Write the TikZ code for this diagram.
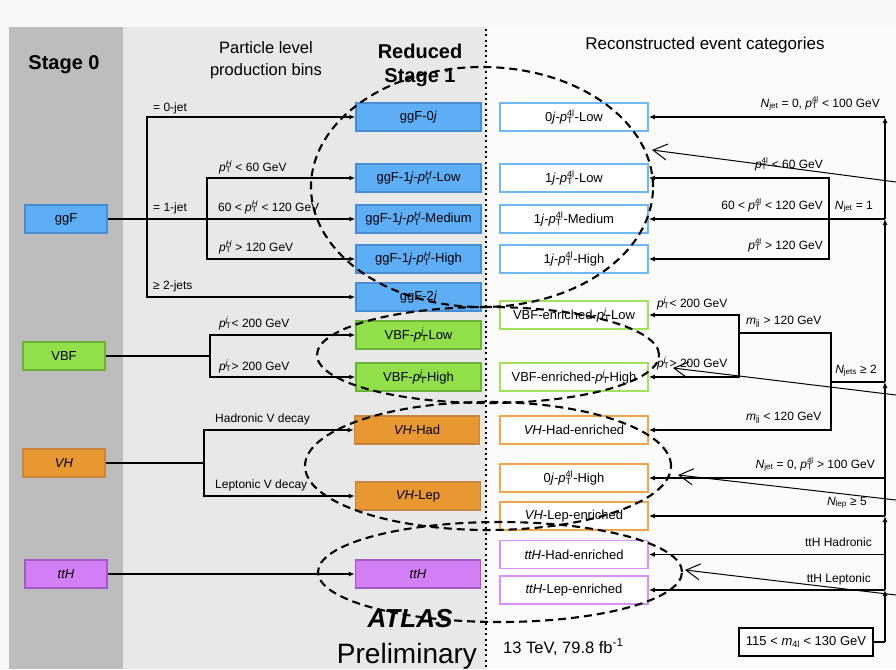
\documentclass[tikz,border=0pt]{standalone}
\usepackage{fontspec}
\setmainfont{Liberation Sans}
\usetikzlibrary{arrows.meta}
\definecolor{st_blue}{RGB}{94, 174, 246}
\definecolor{st_blue_d}{RGB}{72, 140, 212}
\definecolor{st_blue_l}{RGB}{110, 184, 246}
\definecolor{st_green}{RGB}{145, 224, 74}
\definecolor{st_green_d}{RGB}{108, 178, 58}
\definecolor{st_green_l}{RGB}{160, 228, 92}
\definecolor{st_orange}{RGB}{232, 152, 48}
\definecolor{st_orange_d}{RGB}{198, 132, 62}
\definecolor{st_orange_l}{RGB}{240, 166, 72}
\definecolor{st_violet}{RGB}{212, 126, 246}
\definecolor{st_violet_d}{RGB}{160, 92, 196}
\definecolor{st_violet_l}{RGB}{218, 142, 248}
\definecolor{bg_page}{RGB}{248, 248, 248}
\definecolor{bg_right}{RGB}{251, 251, 251}
\definecolor{bg_s0}{RGB}{189, 189, 189}
\definecolor{bg_mid}{RGB}{232, 232, 232}
\tikzstyle{bx}=[rectangle,line width=1.5pt,minimum height=28pt,inner sep=0pt,
  font=\fontsize{13}{15}\selectfont]
\tikzstyle{fb}=[bx,fill=st_blue,draw=st_blue_d,minimum width=125pt]
\tikzstyle{fg}=[bx,fill=st_green,draw=st_green_d,minimum width=125pt]
\tikzstyle{fo}=[bx,fill=st_orange,draw=st_orange_d,minimum width=125pt]
\tikzstyle{fv}=[bx,fill=st_violet,draw=st_violet_d,minimum width=125pt]
\tikzstyle{ob}=[bx,fill=white,draw=st_blue_l,minimum width=148pt]
\tikzstyle{og}=[bx,fill=white,draw=st_green_l,minimum width=148pt]
\tikzstyle{oo}=[bx,fill=white,draw=st_orange_l,minimum width=148pt]
\tikzstyle{ov}=[bx,fill=white,draw=st_violet_l,minimum width=148pt]
\tikzstyle{mb}=[bx,fill=white,draw=black,minimum width=134pt]
\tikzstyle{ln}=[line width=1.3pt]
\tikzstyle{ar}=[line width=1.3pt,-{Latex[length=6pt,width=5pt]}]
\tikzstyle{far}=[line width=1pt,-{Straight Barb[length=14pt,width=16pt]}]
\tikzstyle{ring}=[line width=2.1pt,dash pattern=on 8pt off 5pt]
\tikzstyle{dots}=[line width=2pt,dash pattern=on 2pt off 3.3pt]
\tikzstyle{lb}=[inner sep=0pt,font=\fontsize{12}{14}\selectfont]
\newcommand{\ptH}{\textit{p}\rlap{\textsubscript{T}}\textsuperscript{\textit{H}}}
\newcommand{\ptl}{\textit{p}\rlap{\textsubscript{T}}\textsuperscript{4l}}
\newcommand{\ptj}{\textit{p}\rlap{\textsubscript{T}}\textsuperscript{\textit{j}}}
\begin{document}
\begin{tikzpicture}[x=1pt,y=-1pt]
    \useasboundingbox (0,0) rectangle (896,669);
    \fill [bg_page] (0,0) rectangle (896,669);
    \fill [bg_s0] (9,27) rectangle (123,669);
    \fill [bg_mid] (123,27) rectangle (486,669);
    \fill [bg_right] (486,27) rectangle (896,669);
    \draw [style=dots] (486,29) -- (486,669);

    \node [inner sep=0pt,font=\bfseries\fontsize{20}{24}\selectfont,anchor=base] (80) at (64,70) {Stage 0};
    \node [inner sep=0pt,align=center,font=\fontsize{16.5}{22}\selectfont] (81) at (266,60) {Particle level\\production bins};
    \node [inner sep=0pt,align=center,font=\bfseries\fontsize{20}{24}\selectfont] (82) at (420,65) {Reduced\\Stage 1};
    \node [inner sep=0pt,font=\fontsize{17}{20}\selectfont,anchor=base] (83) at (705,50) {Reconstructed event categories};

    \node [style=fb,minimum width=82pt] (1) at (66,219) {ggF};
    \node [style=fg,minimum width=82pt] (2) at (64,356) {VBF};
    \node [style=fo,minimum width=82pt] (3) at (64,463) {\textit{VH}};
    \node [style=fv,minimum width=82pt] (4) at (66,574) {\textit{ttH}};

    \node [style=fb] (5) at (418.5,117) {ggF-0\textit{j}};
    \node [style=fb] (6) at (418.5,178) {ggF-1\textit{j}-\ptH-Low};
    \node [style=fb] (7) at (418.5,219) {ggF-1\textit{j}-\ptH-Medium};
    \node [style=fb] (8) at (418.5,259) {ggF-1\textit{j}-\ptH-High};
    \node [style=fb] (9) at (418.5,297) {ggF-2\textit{j}};
    \node [style=fg] (10) at (418.5,335) {VBF-\ptj-Low};
    \node [style=fg] (11) at (418.5,377) {VBF-\ptj-High};
    \node [style=fo] (12) at (417,430) {\textit{VH}-Had};
    \node [style=fo] (13) at (418,496) {\textit{VH}-Lep};
    \node [style=fv] (14) at (418,574) {\textit{ttH}};

    \node [style=ob] (15) at (574,117) {0\textit{j}-\ptl-Low};
    \node [style=ob] (16) at (574,178) {1\textit{j}-\ptl-Low};
    \node [style=ob] (17) at (574,219) {1\textit{j}-\ptl-Medium};
    \node [style=ob] (18) at (574,259) {1\textit{j}-\ptl-High};
    \node [style=og] (19) at (574,315) {VBF-enriched-\ptj-Low};
    \node [style=og] (20) at (574,377) {VBF-enriched-\ptj-High};
    \node [style=oo] (21) at (574,430) {\textit{VH}-Had-enriched};
    \node [style=oo] (22) at (574,478) {0\textit{j}-\ptl-High};
    \node [style=oo] (23) at (574,516) {\textit{VH}-Lep-enriched};
    \node [style=ov] (24) at (574,554.5) {\textit{ttH}-Had-enriched};
    \node [style=ov] (25) at (574,590) {\textit{ttH}-Lep-enriched};
    \node [style=mb] (26) at (806,642) {115 < \textit{m}\textsubscript{4l} < 130 GeV};

    \coordinate (30) at (147,219);
    \coordinate (31) at (207,219);
    \coordinate (32) at (210,356);
    \coordinate (33) at (204,463);
    \draw [style=ar] (1) to (7);
    \draw [style=ar] (30) |- (5);
    \draw [style=ar] (30) |- (9);
    \draw [style=ar] (31) |- (6);
    \draw [style=ar] (31) |- (8);
    \draw [style=ln] (2) to (32);
    \draw [style=ar] (32) |- (10);
    \draw [style=ar] (32) |- (11);
    \draw [style=ln] (3) to (33);
    \draw [style=ar] (33) |- (12);
    \draw [style=ar] (33) |- (13);
    \draw [style=ar] (4) to (14);

    \coordinate (40) at (885,642);
    \coordinate (41) at (885,590);
    \coordinate (42) at (885,554.5);
    \coordinate (43) at (885,516);
    \coordinate (44) at (885,478);
    \coordinate (45) at (885,382);
    \coordinate (46) at (885,219);
    \coordinate (47) at (885,117);
    \coordinate (48) at (831,382);
    \coordinate (49) at (739,333);
    \coordinate (50) at (829,219);
    \draw [style=ln] (26) to (40);
    \draw [style=ar] (40) to (41);
    \draw [style=ar] (41) to (43);
    \draw [style=ar] (43) to (45);
    \draw [style=ar] (45) to (46);
    \draw [style=ar] (46) to (47);
    \draw [style=ar] (47) to (15);
    \draw [style=ar] (46) to (17);
    \draw [style=ar] (50) |- (16);
    \draw [style=ar] (50) |- (18);
    \draw [style=ln] (45) to (48);
    \draw [style=ln] (48) |- (49);
    \draw [style=ar] (48) |- (21);
    \draw [style=ar] (49) |- (19);
    \draw [style=ar] (49) |- (20);
    \draw [style=ar] (44) to (22);
    \draw [style=ar] (43) to (23);
    \draw [style=ar] (42) to (24);
    \draw [style=ar] (41) to (25);

    \node [style=lb,anchor=base west] (70) at (153,111) {= 0-jet};
    \node [style=lb,anchor=base west] (71) at (153,211) {= 1-jet};
    \node [style=lb,anchor=base west] (72) at (153,289) {≥ 2-jets};
    \node [style=lb,anchor=base west] (73) at (219,171) {\ptH{} < 60 GeV};
    \node [style=lb,anchor=base west] (74) at (218,211) {60 < \ptH{} < 120 GeV};
    \node [style=lb,anchor=base west] (75) at (219,251) {\ptH{} > 120 GeV};
    \node [style=lb,anchor=base west] (76) at (219,327) {\ptj{} < 200 GeV};
    \node [style=lb,anchor=base west] (77) at (219,370) {\ptj{} > 200 GeV};
    \node [style=lb,anchor=base west] (78) at (215,422) {Hadronic V decay};
    \node [style=lb,anchor=base west] (79) at (215,488) {Leptonic V decay};

    \node [style=lb,anchor=base east] (90) at (880,107) {\textit{N}\textsubscript{jet} = 0, \ptl{} < 100 GeV};
    \node [style=lb,anchor=base east] (91) at (823,168) {\ptl{} < 60 GeV};
    \node [style=lb,anchor=base east] (92) at (823,209) {60 < \ptl{} < 120 GeV};
    \node [style=lb,anchor=base east] (93) at (873,209) {\textit{N}\textsubscript{jet} = 1};
    \node [style=lb,anchor=base east] (94) at (823,249) {\ptl{} > 120 GeV};
    \node [style=lb,anchor=base west] (95) at (657,307) {\ptj{} < 200 GeV};
    \node [style=lb,anchor=base west] (96) at (746,324) {\textit{m}\textsubscript{jj} > 120 GeV};
    \node [style=lb,anchor=base west] (97) at (657,367) {\ptj{} > 200 GeV};
    \node [style=lb,anchor=base east] (98) at (877,373) {\textit{N}\textsubscript{jets} ≥ 2};
    \node [style=lb,anchor=base west] (99) at (746,420) {\textit{m}\textsubscript{jj} < 120 GeV};
    \node [style=lb,anchor=base east] (100) at (875,468) {\textit{N}\textsubscript{jet} = 0, \ptl{} > 100 GeV};
    \node [style=lb,anchor=base east] (101) at (867,505) {\textit{N}\textsubscript{lep} ≥ 5};
    \node [style=lb,anchor=base east] (102) at (872,546) {ttH Hadronic};
    \node [style=lb,anchor=base east] (103) at (871,582) {ttH Leptonic};

    \node [inner sep=0pt,font=\bfseries\itshape\fontsize{26}{30}\selectfont,anchor=base] (84) at (410,627) {ATLAS};
    \node [inner sep=0pt,font=\fontsize{28}{32}\selectfont,anchor=base] (85) at (407,663) {Preliminary};
    \node [inner sep=0pt,font=\fontsize{16.5}{20}\selectfont,anchor=base west] (86) at (503,653) {13 TeV, 79.8 fb\textsuperscript{-1}};

    \draw [style=ring] (482,187) ellipse (171pt and 120pt);
    \draw [style=ring] (488,355) ellipse (171pt and 48pt);
    \draw [style=ring] (488,466) ellipse (183pt and 64pt);
    \draw [style=ring] (500,572) ellipse (182pt and 50pt);

    \coordinate (60) at (896,182);
    \coordinate (61) at (652,150);
    \coordinate (62) at (896,395);
    \coordinate (63) at (673,368);
    \coordinate (64) at (896,500);
    \coordinate (65) at (678,475);
    \coordinate (66) at (896,595);
    \coordinate (67) at (685,570);
    \draw [style=far] (60) to (61);
    \draw [style=far] (62) to (63);
    \draw [style=far] (64) to (65);
    \draw [style=far] (66) to (67);
  \end{tikzpicture}
\end{document}
